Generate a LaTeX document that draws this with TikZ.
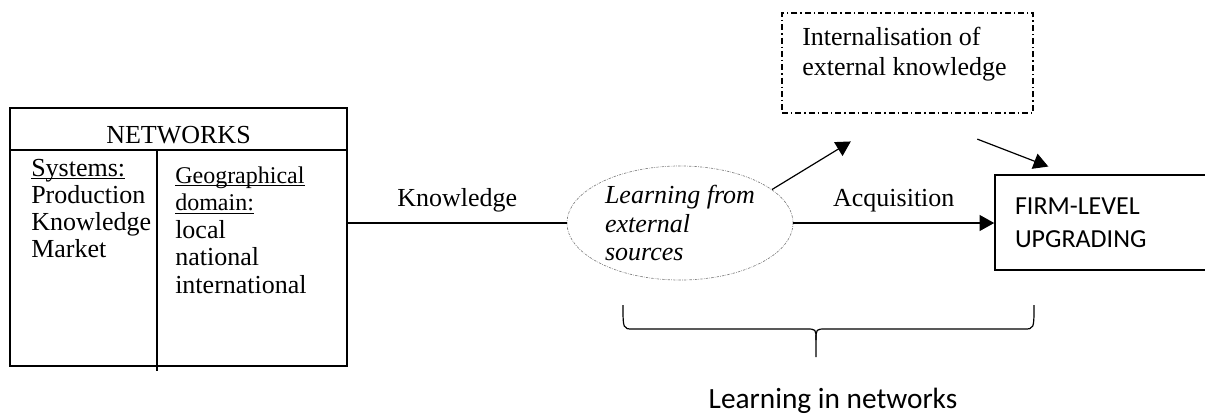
\documentclass[tikz,border=0pt]{standalone}
\usepackage{fontspec}
\setmainfont{Liberation Serif}
\newfontfamily\calibrifont{Carlito}
\usetikzlibrary{arrows.meta, calc, shapes.geometric}

% underline sitting just under the baseline
\newcommand{\ulbase}[1]{\setbox0=\hbox{#1}\rlap{\rule[-2.6pt]{\wd0}{0.9pt}}\box0}

\tikzset{
  txt/.style={font=\fontsize{19.5}{20.25}\selectfont, inner sep=0pt},
  smalltxt/.style={font=\fontsize{18}{20}\selectfont, inner sep=0pt},
  sanstxt/.style={font=\calibrifont\fontsize{19.5}{24.75}\selectfont},
  frame/.style={draw, rectangle, line width=1.2pt, inner sep=0pt},
  ddbox/.style={frame, line width=1pt, dash pattern=on 4.5pt off 2.2pt on 1.1pt off 2.2pt},
  learnoval/.style={ellipse, draw=gray, line width=0.5pt,
    dash pattern=on 1.8pt off 0.9pt on 0.5pt off 0.9pt,
    minimum width=169.5pt, minimum height=85.5pt, inner sep=0pt, align=left,
    font=\itshape\fontsize{19.5}{21.4}\selectfont},
  link/.style={line width=0.9pt},
  arr/.style={link, -{Triangle[length=11pt, width=12pt]}},
  lbl/.style={txt, above=3.5pt, inner sep=4pt}
}

\begin{document}
\begin{tikzpicture}[x=0.75pt, y=-0.75pt]
  \useasboundingbox (0,0) rectangle (1205,414);

  % Networks table
  \node[frame, minimum width=252.75pt, minimum height=193.5pt] (net) at (178.5,237) {};
  \draw[line width=1.2pt] (10,150) -- (347,150);
  \draw[line width=1.2pt] (157,150) -- (157,371);
  \node[txt, anchor=base] (net-title) at (178.5,143) {NETWORKS};
  \node[txt, anchor=base west] (sys-0) at (31,176) {\ulbase{Systems:}};
  \foreach \name [count=\i] in {Production, Knowledge, Market}
    \node[txt, anchor=base west] (sys-\i) at (31,176+27*\i) {\name};
  \node[smalltxt, anchor=base west] (geo-0) at (175,183) {\ulbase{Geographical}};
  \node[smalltxt, anchor=base west] (geo-1) at (175,210.5) {\ulbase{domain:}};
  \foreach \name [count=\i from 2] in {local, national, international}
    \node[txt, anchor=base west] (geo-\i) at (175,183+27.5*\i) {\name};

  % Learning oval
  \node[learnoval] (learn) at (680,223) {Learning from\\external\\sources};

  % Internalisation box
  \node[ddbox, minimum width=188.25pt, minimum height=75pt] (intern) at (907.5,63) {};
  \node[txt, anchor=base west] (intern-1) at (802,45) {Internalisation of};
  \node[txt, anchor=base west] (intern-2) at (802,75) {external knowledge};

  % Upgrading box
  \node[frame, sanstxt, minimum width=165pt, minimum height=71.25pt, text width=135pt,
    inner xsep=15pt, align=left] (firm) at (1105,222.5) {FIRM-LEVEL\\UPGRADING};

  % Connectors
  \draw[link] (net.east |- learn) -- node[lbl] {Knowledge} (learn.west);
  \draw[arr] (learn.east) -- node[lbl] {Acquisition} (learn.east -| firm.west);
  \draw[arr, shorten >=40pt] (learn.20) -- ($(intern.south west)+(115,0)$);
  \draw[arr, shorten <=53pt, shorten >=16pt] ($(intern.south west)+(130,0)$) -- ($(firm.north west)+(74,0)$);

  % Brace
  \draw[line width=0.9pt] (623,305) .. controls (623,329) .. (633,329) -- (806,329)
    .. controls (816,329) .. (816,340) -- (816,357);
  \draw[line width=0.9pt] (816,340) .. controls (816,329) .. (826,329) -- (1024,329)
    .. controls (1034,329) .. (1034,305);
  \node[sanstxt, font=\calibrifont\fontsize{22}{26}\selectfont, anchor=base] (brace-label) at (833,408) {Learning in networks};
\end{tikzpicture}
\end{document}
